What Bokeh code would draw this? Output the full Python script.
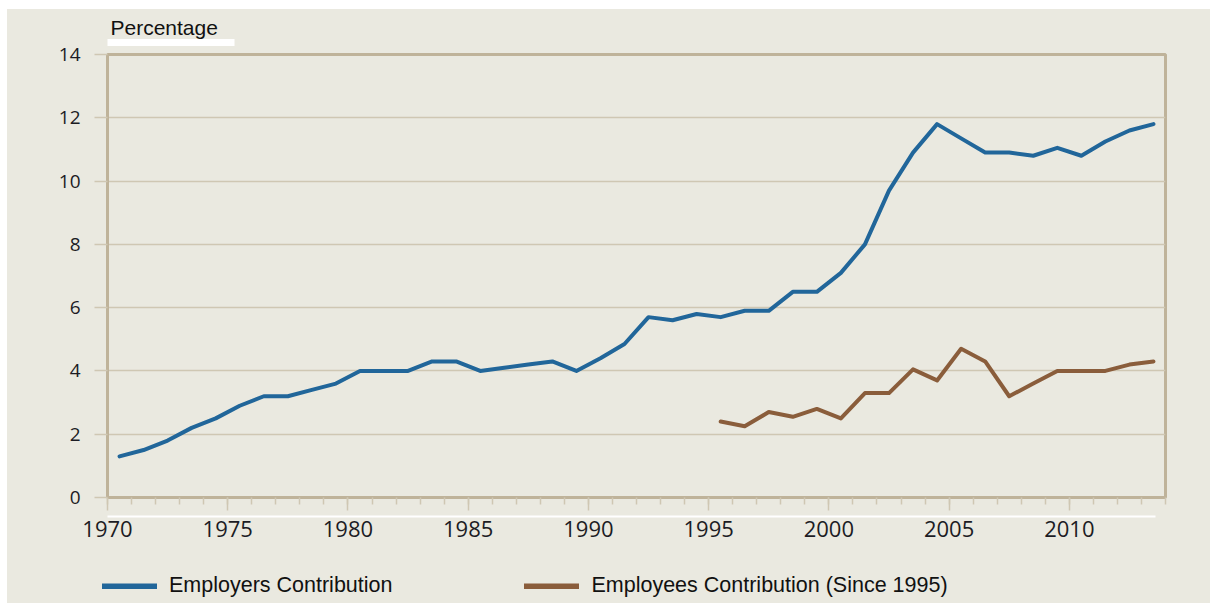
from bokeh.plotting import figure
from bokeh.layouts import column
from bokeh.models import (SingleIntervalTicker, Legend, LegendItem, FixedTicker, LinearAxis,
                          CustomLabelingPolicy, Range1d)
from bokeh.embed import file_html
from bokeh.resources import INLINE

# ---- data ----
employer_years = list(range(1970, 2014))
employer_values = [1.3, 1.5, 1.8, 2.2, 2.5, 2.9, 3.2, 3.2, 3.4, 3.6,
                   4.0, 4.0, 4.0, 4.3, 4.3, 4.0, 4.1, 4.2, 4.3, 4.0,
                   4.4, 4.85, 5.7, 5.6, 5.8, 5.7, 5.9, 5.9, 6.5, 6.5,
                   7.1, 8.0, 9.7, 10.9, 11.8, 11.35, 10.9, 10.9, 10.8, 11.05,
                   10.8, 11.25, 11.6, 11.8]
employee_years = list(range(1995, 2014))
employee_values = [2.4, 2.25, 2.7, 2.55, 2.8, 2.5, 3.3, 3.3, 4.05, 3.7,
                   4.7, 4.3, 3.2, 3.6, 4.0, 4.0, 4.0, 4.2, 4.3]
y_ticks = [0, 2, 4, 6, 8, 10, 12, 14]
series_names = ["Employers Contribution", "Employees Contribution (Since 1995)"]
y_title = "Percentage"

BG = "#EAE9E0"
TAN = "#BFB39A"
GRID = "#CFC7B3"
BLUE = "#21669A"
BROWN = "#8A5D3B"
TEXT = "#1c1c24"

HIDE_LABELS = "for (const i of Array.from(indices)) { indices.unset(i) } return indices"

p = figure(width=1203, height=551, margin=0,
           x_range=(1970, 2014), y_range=(0, 14),
           output_backend="svg", toolbar_location=None,
           background_fill_color=BG, border_fill_color=BG,
           background_fill_alpha=1, border_fill_alpha=1,
           min_border_left=100, min_border_right=45, min_border_top=44, min_border_bottom=63)
p.frame_align = False

p.outline_line_color = TAN
p.outline_line_width = 3

# main x axis: line + ticks only (labels suppressed)
xa = p.xaxis[0]
xa.ticker = SingleIntervalTicker(interval=5, num_minor_ticks=5)
xa.axis_line_color = TAN
xa.axis_line_width = 3
xa.major_tick_line_color = GRID
xa.major_tick_line_width = 1.5
xa.major_tick_out = 13
xa.major_tick_in = 0
xa.minor_tick_line_color = GRID
xa.minor_tick_line_width = 1.5
xa.minor_tick_out = 7
xa.minor_tick_in = 0
xa.major_label_text_font_size = "1px"
xa.major_label_standoff = 2
xa.major_label_policy = CustomLabelingPolicy(code=HIDE_LABELS)

# second x axis: white rule + year labels
xb = LinearAxis(ticker=SingleIntervalTicker(interval=5),
                bounds=(1968.6, 2013.6),
                axis_line_color="white", axis_line_width=2,
                major_tick_line_color=None, minor_tick_line_color=None,
                major_tick_out=0, major_tick_in=0, minor_tick_out=0, minor_tick_in=0,
                major_label_text_font="Open Sans", major_label_text_font_size="22px",
                major_label_text_color=TEXT, major_label_standoff=4)
p.add_layout(xb, "below")

# y axis
p.yaxis.ticker = FixedTicker(ticks=y_ticks)
p.yaxis.axis_line_color = TAN
p.yaxis.axis_line_width = 3
p.yaxis.major_tick_line_color = GRID
p.yaxis.major_tick_line_width = 1.5
p.yaxis.major_tick_out = 13
p.yaxis.major_tick_in = 0
p.yaxis.minor_tick_line_color = None
p.yaxis.major_label_text_font = "Open Sans"
p.yaxis.major_label_text_font_size = "19px"
p.yaxis.major_label_text_color = TEXT
p.yaxis.major_label_standoff = 14

p.xgrid.grid_line_color = None
p.ygrid.grid_line_color = GRID
p.ygrid.grid_line_width = 1.5

x_emp = [y + 0.5 for y in employer_years]
x_ee = [y + 0.5 for y in employee_years]
p.line(x_emp, employer_values, line_color=BLUE, line_width=4, line_join="round", line_cap="round")
p.line(x_ee, employee_values, line_color=BROWN, line_width=4, line_join="round", line_cap="round")

# above: spacer axis, white underline axis, then title
sp = LinearAxis(ticker=FixedTicker(ticks=[1980]), axis_line_color=None,
                major_tick_line_color=None, major_tick_out=8, major_tick_in=0,
                minor_tick_line_color=None, minor_tick_out=0, minor_tick_in=0,
                major_label_text_font_size="1px", major_label_standoff=0,
                major_label_policy=CustomLabelingPolicy(code=HIDE_LABELS))
p.add_layout(sp, "above")
ul = LinearAxis(ticker=FixedTicker(ticks=[]), bounds=(1969.875, 1975.28),
                axis_line_color="white", axis_line_width=7,
                major_tick_line_color=None, major_tick_out=0, major_tick_in=0,
                minor_tick_line_color=None, minor_tick_out=0, minor_tick_in=0,
                major_label_standoff=0)
p.add_layout(ul, "above")

p.title.text = y_title
p.title.text_font = "Liberation Sans"
p.title.text_font_size = "21px"
p.title.text_font_style = "normal"
p.title.text_color = "#111111"
p.title.align = "left"
p.title.offset = 3
p.title.standoff = 8

# legend strip below the chart
p2 = figure(width=1203, height=43, margin=0, output_backend="svg", toolbar_location=None,
            x_axis_location=None, y_axis_location=None,
            x_range=Range1d(0, 1), y_range=Range1d(0, 1),
            background_fill_color=BG, border_fill_color=BG,
            background_fill_alpha=1, border_fill_alpha=1,
            min_border=0, min_border_left=0, min_border_right=0, min_border_top=0, min_border_bottom=0)
p2.frame_align = False
p2.outline_line_color = None
p2.xgrid.grid_line_color = None
p2.ygrid.grid_line_color = None
lg1 = p2.line(x_emp, employer_values, line_color=BLUE, line_width=6, line_cap="round")
lg2 = p2.line(x_ee, employee_values, line_color=BROWN, line_width=6, line_cap="round")
legend = Legend(items=[LegendItem(label=series_names[0], renderers=[lg1]),
                       LegendItem(label=series_names[1], renderers=[lg2])],
                location=(95, 5), orientation="horizontal",
                glyph_width=55, glyph_height=6, label_standoff=12, spacing=132,
                padding=0, margin=0, background_fill_alpha=0, border_line_alpha=0,
                label_text_font="Liberation Sans", label_text_font_size="21.5px",
                label_text_color="#111111")
p2.add_layout(legend, "center")

layout = column(p, p2, spacing=0, margin=(9, 0, 0, 7))
layout.styles = {"background-color": BG}
open("out.html", "w").write(file_html(layout, INLINE))
